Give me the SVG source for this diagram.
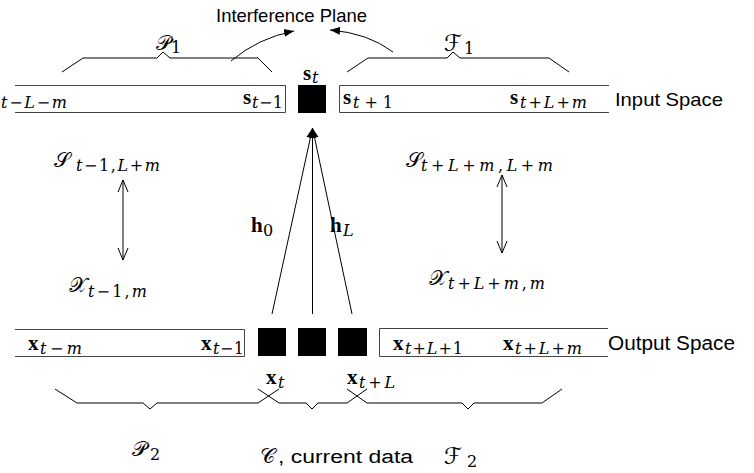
<svg xmlns="http://www.w3.org/2000/svg" width="754" height="473" viewBox="0 0 754 473">
<defs>
<style>
.sf{font-family:"Liberation Sans",Arial,sans-serif;fill:#000}
.mb{font-family:"Liberation Serif","DejaVu Serif",serif;font-weight:bold;font-size:21px;fill:#000}
.ms{font-family:"DejaVu Serif","Liberation Serif",serif;font-size:16px;fill:#000}
.cal{font-family:"DejaVu Serif","DejaVu Sans","Noto Sans",serif;font-size:21px;fill:#000}
.calf{font-family:"DejaVu Serif","DejaVu Sans","Noto Sans",serif;font-size:23px;fill:#000}
.i{font-style:italic}
.box{fill:none;stroke:#444;stroke-width:1}
.blk{fill:#000}
.br{fill:none;stroke:#000;stroke-width:1}
.ln{fill:none;stroke:#000;stroke-width:1}
</style>
<marker id="fa" viewBox="0 0 10 10" refX="10" refY="5" markerWidth="10" markerHeight="10" markerUnits="userSpaceOnUse" orient="auto">
<path d="M0,1 L10,5 L0,9 Z" fill="#000"/>
</marker>
<marker id="oa" viewBox="0 0 12 12" refX="12" refY="6" markerWidth="12" markerHeight="12" markerUnits="userSpaceOnUse" orient="auto">
<path d="M0,1 L12,6 L0,11" fill="none" stroke="#000" stroke-width="1"/>
</marker>
</defs>
<rect width="754" height="473" fill="#fff"/>

<g id="title">
<text class="sf" x="216" y="22" font-size="19" textLength="151" lengthAdjust="spacingAndGlyphs">Interference Plane</text>
</g>

<g id="input-past">
<path class="box" d="M15,85.5 H285.5 V112.5 H15"/>
<text class="mb" x="-11" y="104">s</text>
<text class="ms" x="1" y="108" textLength="66"><tspan class="i">t</tspan>−<tspan class="i">L</tspan>−<tspan class="i">m</tspan></text>
<text class="mb" x="243" y="104">s</text>
<text class="ms" x="252" y="108" textLength="31"><tspan class="i">t</tspan>−1</text>
</g>

<g id="input-current">
<rect class="blk" x="298" y="85" width="28" height="28"/>
<text class="mb" x="303" y="80">s</text>
<text class="ms i" x="312" y="83">t</text>
</g>

<g id="input-future">
<path class="box" d="M609,85.5 H339.5 V112.5 H609"/>
<text class="mb" x="343" y="104">s</text>
<text class="ms" x="353" y="108" textLength="40"><tspan class="i">t</tspan>+1</text>
<text class="mb" x="510" y="104">s</text>
<text class="ms" x="520" y="108" textLength="67"><tspan class="i">t</tspan>+<tspan class="i">L</tspan>+<tspan class="i">m</tspan></text>
<text class="sf" x="615" y="106" font-size="19" textLength="108" lengthAdjust="spacingAndGlyphs">Input Space</text>
</g>

<g id="output-past">
<path class="box" d="M15,329.5 H244.5 V356.5 H15"/>
<text class="mb" x="28" y="350">x</text>
<text class="ms" x="40" y="354" textLength="42"><tspan class="i">t</tspan>−<tspan class="i">m</tspan></text>
<text class="mb" x="201" y="350">x</text>
<text class="ms" x="213" y="354" textLength="31"><tspan class="i">t</tspan>−1</text>
</g>

<g id="output-current">
<rect class="blk" x="258" y="328" width="28" height="28"/>
<rect class="blk" x="298" y="328" width="28" height="28"/>
<rect class="blk" x="338" y="328" width="29" height="28"/>
<text class="mb" x="266" y="384">x</text>
<text class="ms i" x="278" y="388">t</text>
<text class="mb" x="347" y="384">x</text>
<text class="ms" x="359" y="388" textLength="36"><tspan class="i">t</tspan>+<tspan class="i">L</tspan></text>
</g>

<g id="output-future">
<path class="box" d="M608,328.5 H379.5 V356.5 H608"/>
<text class="mb" x="393" y="350">x</text>
<text class="ms" x="405" y="354" textLength="58"><tspan class="i">t</tspan>+<tspan class="i">L</tspan>+1</text>
<text class="mb" x="503" y="350">x</text>
<text class="ms" x="515" y="354" textLength="67"><tspan class="i">t</tspan>+<tspan class="i">L</tspan>+<tspan class="i">m</tspan></text>
<text class="sf" x="608" y="350" font-size="20" textLength="127" lengthAdjust="spacingAndGlyphs">Output Space</text>
</g>

<g id="set-left">
<text class="cal" x="54" y="167">𝒮</text>
<text class="ms" x="76" y="171" textLength="84"><tspan class="i">t</tspan>−1,<tspan class="i">L</tspan>+<tspan class="i">m</tspan></text>
<text class="cal" x="69" y="292">𝒳</text>
<text class="ms" x="88" y="297" textLength="59"><tspan class="i">t</tspan>−1,<tspan class="i">m</tspan></text>
</g>

<g id="set-right">
<text class="cal" x="406" y="167">𝒮</text>
<text class="ms" x="421" y="171" font-size="17" textLength="132"><tspan class="i">t</tspan>+<tspan class="i">L</tspan>+<tspan class="i">m</tspan>,<tspan class="i">L</tspan>+<tspan class="i">m</tspan></text>
<text class="cal" x="429" y="285">𝒳</text>
<text class="ms" x="448" y="289" textLength="97"><tspan class="i">t</tspan>+<tspan class="i">L</tspan>+<tspan class="i">m</tspan>,<tspan class="i">m</tspan></text>
</g>

<g id="filters">
<text class="mb" x="251" y="232">h</text>
<text class="ms" x="263" y="236">0</text>
<text class="mb" x="330" y="232">h</text>
<text class="ms i" x="343" y="236">L</text>
</g>

<g id="brace-labels">
<text class="cal" x="156" y="50">𝒫</text>
<text class="ms" x="171" y="53">1</text>
<text class="calf" x="444" y="51">ℱ</text>
<text class="ms" x="464" y="54">1</text>
<text class="cal" x="132" y="456">𝒫</text>
<text class="ms" x="150" y="460">2</text>
<text class="cal" x="260" y="463">𝒞</text>
<text class="sf" x="278" y="463" font-size="18" textLength="135" lengthAdjust="spacingAndGlyphs">, current data</text>
<text class="calf" x="444" y="464">ℱ</text>
<text class="ms" x="467" y="467">2</text>
</g>

<g id="connectors">
<path class="br" d="M62,72 L83,58 H157 L163,52 L170,58 H258 L272,72"/>
<path class="br" d="M347,72 L368,58 H447 L453,52 L460,58 H549 L569,72"/>
<path class="br" d="M55,389 L77,403 H143 L150,409 L157,403 H258 L279,389"/>
<path class="br" d="M258,389 L279,403 H306 L312,409 L318,403 H347 L367,389"/>
<path class="br" d="M347,389 L367,403 H462 L468,409 L474,403 H542 L562,389"/>
<path class="ln" d="M231,61 Q258,38 294,31" marker-end="url(#fa)"/>
<path class="ln" d="M393,52 Q368,33 330,30" marker-end="url(#fa)"/>
<path class="ln" d="M272,314 L312.5,128" marker-end="url(#fa)"/>
<path class="ln" d="M312.5,314 L312.5,128" marker-end="url(#fa)"/>
<path class="ln" d="M352,314 L312.5,128" marker-end="url(#fa)"/>
<path class="ln" d="M123,220 L123,180" marker-end="url(#oa)"/>
<path class="ln" d="M123,220 L123,260" marker-end="url(#oa)"/>
<path class="ln" d="M502,214 L502,175" marker-end="url(#oa)"/>
<path class="ln" d="M502,214 L502,253" marker-end="url(#oa)"/>
</g>
</svg>
